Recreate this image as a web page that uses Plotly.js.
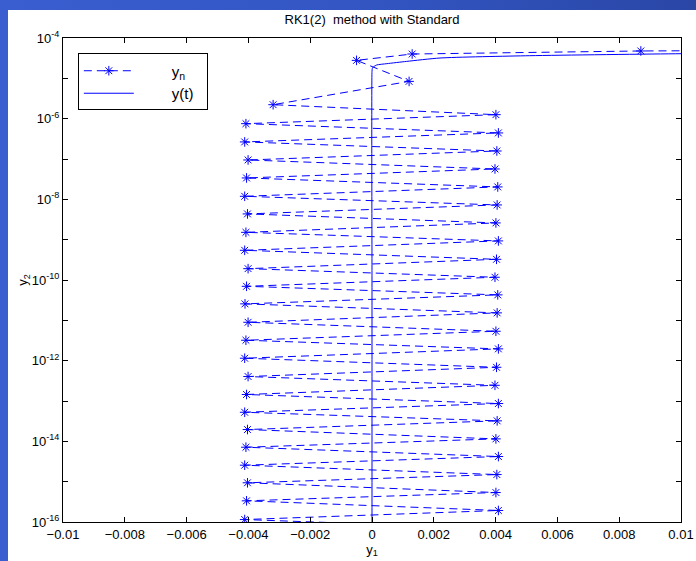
<!DOCTYPE html>
<html>
<head>
<meta charset="utf-8">
<script src="https://cdn.plot.ly/plotly-3.0.1.min.js"></script>
<style>
  html, body { margin: 0; padding: 0; }
  body { width: 696px; height: 561px; overflow: hidden;
         background: linear-gradient(to right, #3a5ecf 0%, #3356c4 50%, #2a47a6 100%); position: relative; }
  #chart { position: absolute; left: 8px; top: 10px; width: 688px; height: 551px; background: #ffffff; }
</style>
</head>
<body>
<div id="chart"></div>
<script>
// Numerical solution y_n (RK1(2) steps), in order
const ynX = [0.0150, 0.0087, 0.0013, -0.0005, 0.0012, -0.0032,
  0.00401, -0.00408, 0.00409, -0.00412, 0.00404, -0.00401, 0.00398, -0.00406,
  0.00407, -0.00412, 0.00405, -0.00403, 0.00401, -0.00408, 0.00409, -0.00412,
  0.00403, -0.00401, 0.00398, -0.00406, 0.00407, -0.00411, 0.00405, -0.00401,
  0.00401, -0.00408, 0.00409, -0.00412, 0.00403, -0.00401, 0.00398, -0.00406,
  0.00409, -0.00412, 0.00405, -0.00403, 0.00401, -0.00408, 0.00409, -0.00412,
  0.00404, -0.00403, 0.00401, -0.00406, 0.00409, -0.00412, 0.00405];
const ynY = [5.0e-5, 4.77e-5, 4.01e-5, 2.79e-5, 8.4e-6, 2.22e-6,
  1.256e-6, 7.52e-7, 4.43e-7, 2.65e-7, 1.58e-7, 9.46e-8, 5.66e-8, 3.39e-8,
  2.03e-8, 1.19e-8, 7.26e-9, 4.35e-9, 2.60e-9, 1.52e-9, 9.31e-10, 5.45e-10,
  3.26e-10, 1.91e-10, 1.17e-10, 6.98e-11, 4.28e-11, 2.56e-11, 1.53e-11, 8.95e-12,
  5.36e-12, 3.21e-12, 1.96e-12, 1.15e-12, 6.85e-13, 4.04e-13, 2.45e-13, 1.45e-13,
  8.65e-14, 5.26e-14, 3.22e-14, 1.96e-14, 1.15e-14, 7.14e-15, 4.20e-15, 2.56e-15,
  1.50e-15, 9.38e-16, 5.38e-16, 3.35e-16, 1.93e-16, 1.15e-16, 6.9e-17];

// Exact solution y(t)
const ytX = [0, 0, 0, 0.00001, 0.00004, 0.00015, 0.00048, 0.00112, 0.0022, 0.0051, 0.0100, 0.0120];
const ytY = [1e-17, 1e-10, 1.49e-5, 1.75e-5, 1.91e-5, 2.14e-5, 2.31e-5, 2.63e-5, 3.19e-5, 3.64e-5, 4.08e-5, 4.2e-5];

// Axis ticks
const xTickVals = [-0.01, -0.008, -0.006, -0.004, -0.002, 0, 0.002, 0.004, 0.006, 0.008, 0.01];
const xTickText = ['\u22120.01', '\u22120.008', '\u22120.006', '\u22120.004', '\u22120.002', '0', '0.002', '0.004', '0.006', '0.008', '0.01'];
const yTickVals = [1e-16, 1e-15, 1e-14, 1e-13, 1e-12, 1e-11, 1e-10, 1e-9, 1e-8, 1e-7, 1e-6, 1e-5, 1e-4];
const yTickText = ['10<sup>-16</sup>', '', '10<sup>-14</sup>', '', '10<sup>-12</sup>', '', '10<sup>-10</sup>', '', '10<sup>-8</sup>', '', '10<sup>-6</sup>', '', '10<sup>-4</sup>'];

const blue = '#0000ff';
const font = 'Liberation Sans, Arial, Helvetica, sans-serif';
const padL = '\u2003\u2003\u2009';
const padR = '\u2002';

const traces = [
  { x: ynX, y: ynY, type: 'scatter', mode: 'lines+markers', name: padL + 'y<sub>n</sub>' + padR,
    line: { color: blue, width: 1, dash: '8px,5px' },
    marker: { symbol: 'asterisk-open', size: 8, color: blue, line: { color: blue, width: 1 } },
    cliponaxis: true },
  { x: ytX, y: ytY, type: 'scatter', mode: 'lines', name: padL + 'y(t)' + padR,
    line: { color: blue, width: 1, shape: 'spline', smoothing: 0.6 }, cliponaxis: true }
];

const layout = {
  width: 688, height: 551,
  margin: { l: 55, r: 15, t: 28, b: 39 },
  paper_bgcolor: '#ffffff', plot_bgcolor: '#ffffff',
  font: { family: font, size: 13, color: '#000' },
  title: { text: 'RK1(2)  method with Standard', font: { family: font, size: 13, color: '#000' },
           x: 0.5, xref: 'paper', y: 0.983, yref: 'container', yanchor: 'middle' },
  showlegend: true,
  legend: { x: 0.024, y: 0.968, xanchor: 'left', yanchor: 'top',
            bgcolor: '#ffffff', bordercolor: '#000', borderwidth: 1,
            font: { family: font, size: 15, color: '#000' }, itemwidth: 50,
            tracegroupgap: 0 },
  xaxis: {
    range: [-0.01, 0.01], tickmode: 'array', tickvals: xTickVals, ticktext: xTickText,
    ticks: 'inside', ticklen: 5, tickcolor: '#000', tickwidth: 1,
    showline: true, linecolor: '#000', linewidth: 1, mirror: 'ticks',
    showgrid: false, zeroline: false,
    tickfont: { family: font, size: 13, color: '#000' },
    title: { text: 'y<sub>1</sub>', font: { family: font, size: 13, color: '#000' }, standoff: 2 }
  },
  yaxis: {
    type: 'log', range: [-16, -4], tickmode: 'array', tickvals: yTickVals, ticktext: yTickText,
    ticks: 'inside', ticklen: 5, tickcolor: '#000', tickwidth: 1,
    showline: true, linecolor: '#000', linewidth: 1, mirror: 'ticks',
    showgrid: false, zeroline: false,
    tickfont: { family: font, size: 13, color: '#000' },
    title: { text: 'y<sub>2</sub>', font: { family: font, size: 13, color: '#000' }, standoff: 0 }
  }
};

Plotly.newPlot('chart', traces, layout, { displayModeBar: false, staticPlot: true });
</script>
</body>
</html>
